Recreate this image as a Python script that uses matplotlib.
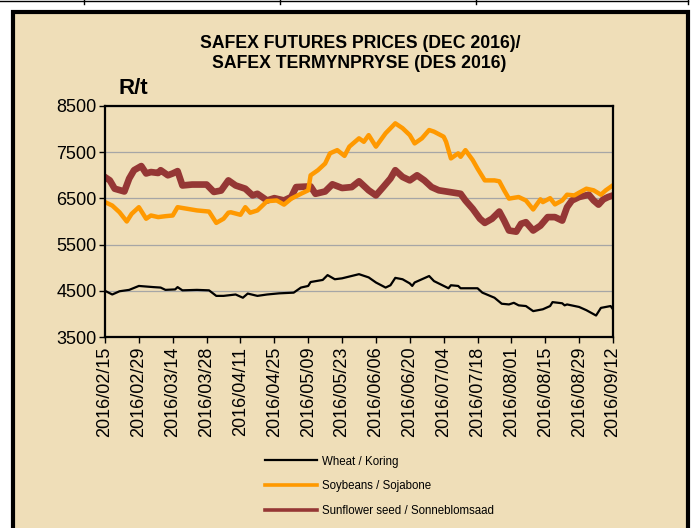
import matplotlib
matplotlib.use("Agg")
import matplotlib.pyplot as plt
from matplotlib.patches import Rectangle
from matplotlib.lines import Line2D
import pandas as pd

# ---------------- data ----------------
wheat_dates = ["2016-02-15","2016-02-18","2016-02-21","2016-02-25","2016-02-29","2016-03-06","2016-03-09",
               "2016-03-11","2016-03-15","2016-03-16","2016-03-18","2016-03-24","2016-03-29","2016-04-01",
               "2016-04-04","2016-04-09","2016-04-12","2016-04-14","2016-04-18","2016-04-22","2016-04-27",
               "2016-05-03","2016-05-06","2016-05-09","2016-05-10","2016-05-15","2016-05-17","2016-05-20",
               "2016-05-23","2016-05-30","2016-06-03","2016-06-06","2016-06-10","2016-06-12","2016-06-14",
               "2016-06-17","2016-06-20","2016-06-21","2016-06-22","2016-06-28","2016-06-30","2016-07-06",
               "2016-07-07","2016-07-10","2016-07-11","2016-07-18","2016-07-20","2016-07-25","2016-07-28",
               "2016-07-31","2016-08-02","2016-08-04","2016-08-07","2016-08-10","2016-08-14","2016-08-17",
               "2016-08-18","2016-08-22","2016-08-23","2016-08-24","2016-08-29","2016-09-01","2016-09-05",
               "2016-09-07","2016-09-11","2016-09-12"]
wheat_values = [4500,4420,4490,4520,4605,4580,4570,4520,4530,4580,4510,4520,4510,4390,4390,4420,4350,4440,
                4390,4420,4445,4460,4570,4605,4690,4735,4840,4750,4770,4860,4790,4680,4570,4620,4780,4750,
                4660,4605,4680,4820,4710,4555,4620,4605,4555,4555,4460,4350,4220,4205,4240,4185,4170,4060,
                4100,4170,4255,4230,4185,4205,4150,4080,3965,4130,4170,4100]

soy_dates = ["2016-02-15","2016-02-18","2016-02-21","2016-02-24","2016-02-26","2016-02-29","2016-03-03",
             "2016-03-05","2016-03-08","2016-03-11","2016-03-14","2016-03-16","2016-03-24","2016-03-29",
             "2016-04-01","2016-04-04","2016-04-06","2016-04-07","2016-04-11","2016-04-13","2016-04-15",
             "2016-04-18","2016-04-22","2016-04-26","2016-04-29","2016-05-02","2016-05-06","2016-05-09",
             "2016-05-10","2016-05-13","2016-05-16","2016-05-18","2016-05-21","2016-05-24","2016-05-26",
             "2016-05-30","2016-06-01","2016-06-03","2016-06-06","2016-06-10","2016-06-14","2016-06-17",
             "2016-06-20","2016-06-22","2016-06-25","2016-06-28","2016-06-30","2016-07-04","2016-07-05",
             "2016-07-07","2016-07-10","2016-07-11","2016-07-13","2016-07-16","2016-07-18","2016-07-21",
             "2016-07-25","2016-07-27","2016-07-29","2016-07-31","2016-08-04","2016-08-07","2016-08-10",
             "2016-08-13","2016-08-14","2016-08-17","2016-08-19","2016-08-22","2016-08-24","2016-08-27",
             "2016-08-29","2016-09-01","2016-09-04","2016-09-07","2016-09-09","2016-09-12"]
soy_values = [6420,6345,6200,6000,6165,6310,6060,6130,6095,6115,6130,6310,6240,6215,5970,6060,6190,6200,
              6145,6310,6190,6240,6440,6455,6365,6495,6600,6675,7000,7110,7255,7475,7545,7420,7620,7800,
              7725,7870,7620,7910,8125,8020,7870,7690,7800,7980,7945,7835,7725,7365,7475,7400,7545,7330,
              7145,6890,6890,6870,6675,6495,6530,6455,6260,6480,6420,6505,6370,6455,6580,6565,6625,6710,
              6675,6580,6675,6785]

sun_dates = ["2016-02-15","2016-02-17","2016-02-19","2016-02-23","2016-02-25","2016-02-27","2016-03-01",
             "2016-03-03","2016-03-05","2016-03-08","2016-03-09","2016-03-12","2016-03-14","2016-03-16",
             "2016-03-18","2016-03-22","2016-03-28","2016-03-31","2016-04-03","2016-04-06","2016-04-09",
             "2016-04-13","2016-04-16","2016-04-18","2016-04-22","2016-04-25","2016-04-29","2016-05-02",
             "2016-05-04","2016-05-10","2016-05-12","2016-05-16","2016-05-19","2016-05-23","2016-05-27",
             "2016-05-30","2016-06-03","2016-06-06","2016-06-09","2016-06-12","2016-06-14","2016-06-17",
             "2016-06-20","2016-06-23","2016-06-26","2016-06-29","2016-07-02","2016-07-08","2016-07-11",
             "2016-07-13","2016-07-16","2016-07-19","2016-07-21","2016-07-24","2016-07-27","2016-07-29",
             "2016-07-31","2016-08-03","2016-08-05","2016-08-07","2016-08-10","2016-08-13","2016-08-16",
             "2016-08-19","2016-08-22","2016-08-24","2016-08-26","2016-08-29","2016-09-02","2016-09-04",
             "2016-09-06","2016-09-08","2016-09-10","2016-09-12"]
sun_values = [6960,6890,6710,6650,6930,7110,7200,7040,7070,7050,7110,7000,7040,7090,6780,6800,6800,6640,
              6670,6890,6780,6710,6565,6600,6455,6505,6455,6530,6745,6760,6600,6650,6805,6725,6745,6870,
              6675,6565,6745,6930,7110,6965,6890,7000,6890,6745,6675,6625,6600,6455,6275,6060,5970,6060,
              6215,6020,5805,5780,5950,5985,5805,5910,6095,6095,6020,6310,6455,6530,6580,6455,6365,6480,
              6530,6565]

series_labels = ["Wheat / Koring", "Soybeans / Sojabone", "Sunflower seed / Sonneblomsaad"]
title_lines = ["SAFEX FUTURES PRICES (DEC 2016)/", "SAFEX TERMYNPRYSE (DES 2016)"]
y_unit = "R/t"
y_ticks = [3500, 4500, 5500, 6500, 7500, 8500]
x_tick_labels = ["2016/02/15", "2016/02/29", "2016/03/14", "2016/03/28", "2016/04/11", "2016/04/25",
                 "2016/05/09", "2016/05/23", "2016/06/06", "2016/06/20", "2016/07/04", "2016/07/18",
                 "2016/08/01", "2016/08/15", "2016/08/29", "2016/09/12"]

# ---------------- style ----------------
W, H = 694, 528
BG = "#EFDEB8"
C_WHEAT, C_SOY, C_SUN = "#000000", "#FF9900", "#953735"
FONT = ["Liberation Sans", "DejaVu Sans"]
plt.rcParams["font.family"] = FONT

fig = plt.figure(figsize=(W / 100, H / 100), dpi=100, facecolor="white")

def fx(px):
    return px / W

def fy(py):
    return 1 - py / H

# parchment panel with thick black border
bg = Rectangle((fx(13), fy(560)), fx(688) - fx(13), fy(11.5) - fy(560),
               transform=fig.transFigure, facecolor=BG, edgecolor="black",
               linewidth=3.0, zorder=-10)
fig.patches.append(bg)
# table lines above the chart
fig.lines.append(Line2D([0, fx(688)], [fy(1), fy(1)], transform=fig.transFigure, color="black", lw=1.0))
for xp in [84, 280, 476, 688]:
    fig.lines.append(Line2D([fx(xp), fx(xp)], [fy(0), fy(4)], transform=fig.transFigure,
                            color="black", lw=1.0))

ax = fig.add_axes([fx(105), fy(337), fx(613) - fx(105), fy(106) - fy(337)])
ax.set_zorder(2)
ax.set_facecolor("none")

wd = pd.to_datetime(wheat_dates)
sd = pd.to_datetime(soy_dates)
ud = pd.to_datetime(sun_dates)
ax.plot(wd, wheat_values, color=C_WHEAT, lw=1.6, solid_joinstyle="round", zorder=4)
ax.plot(sd, soy_values, color=C_SOY, lw=3.2, solid_joinstyle="round", zorder=3)
ax.plot(ud, sun_values, color=C_SUN, lw=4.8, solid_joinstyle="round", zorder=2)

tick_dates = pd.to_datetime(x_tick_labels, format="%Y/%m/%d")
ax.set_ylim(y_ticks[0], y_ticks[-1])
ax.set_yticks(y_ticks)
ax.set_xlim(tick_dates[0], tick_dates[-1])
ax.set_xticks(tick_dates)
ax.set_xticklabels(x_tick_labels)
ax.grid(axis="y", color="#A6A6A6", lw=0.9, zorder=1)
for sp in ax.spines.values():
    sp.set_linewidth(1.6)
    sp.set_color("black")
    sp.set_zorder(5)
ax.tick_params(axis="x", direction="out", length=4, width=1, labelsize=13, rotation=90, pad=3)
ax.tick_params(axis="y", direction="out", length=4, width=1, labelsize=13, pad=2)

# titles
fig.text(fx(360), fy(43), title_lines[0], ha="center", va="center", fontsize=12.7,
         fontweight="bold")
fig.text(fx(359), fy(64), title_lines[1], ha="center", va="center", fontsize=12.7,
         fontweight="bold")
fig.text(fx(118), fy(88), y_unit, ha="left", va="center", fontsize=16, fontweight="bold")

# legend
handles = [Line2D([], [], color=C_WHEAT, lw=1.6), Line2D([], [], color=C_SOY, lw=2.6),
           Line2D([], [], color=C_SUN, lw=2.6)]
fig.legend(handles, series_labels, loc="upper left", bbox_to_anchor=(fx(265), fy(455.5)),
           frameon=False, prop={"size": 8.3}, handlelength=4.55,
           handletextpad=0.42, labelspacing=1.12, borderpad=0, borderaxespad=0)

fig.savefig("out.png", dpi=100, facecolor="white")
